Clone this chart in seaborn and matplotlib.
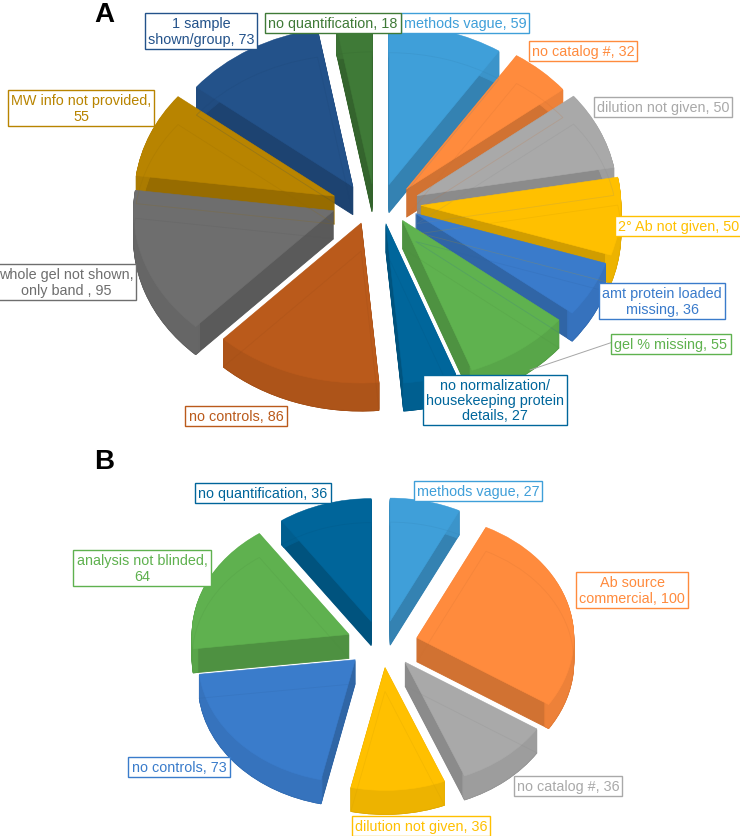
import matplotlib
matplotlib.use('Agg')
import numpy as np
import seaborn as sns
import matplotlib.pyplot as plt
from matplotlib.lines import Line2D

sns.set_theme(style='white')
plt.rcParams['font.family'] = ['Liberation Sans', 'DejaVu Sans']

W, H = 740, 837

# panel A
labels_a = ['methods vague, 59', 'no catalog #, 32', 'dilution not given, 50', '2° Ab not given, 50',
            'amt protein loaded\nmissing, 36', 'gel % missing, 55',
            'no normalization/\nhousekeeping protein\ndetails, 27', 'no controls, 86',
            'whole gel not shown,\nonly band , 95', 'MW info not provided,\n55',
            '1 sample\nshown/group, 73', 'no quantification, 18']
values_a = [59, 32, 50, 50, 36, 55, 27, 86, 95, 55, 73, 18]
colors_a = ['#3f9fd9', '#ff8b3d', '#a9a9a9', '#ffc000', '#3a7bcb', '#5fb24f',
            '#00669b', '#ba5a1b', '#6e6e6e', '#b88400', '#23528a', '#3f7a37']
label_xy_a = [(465, 24), (583, 52), (663, 108), (679, 227), (662, 302), (671, 345),
              (495, 401), (236, 417), (66, 283), (81, 109), (201, 32), (333, 24)]

# panel B
labels_b = ['methods vague, 27', 'Ab source\ncommercial, 100', 'no catalog #, 36', 'dilution not given, 36',
            'no controls, 73', 'analysis not blinded,\n64', 'no quantification, 36']
values_b = [27, 100, 36, 36, 73, 64, 36]
colors_b = ['#3f9fd9', '#ff8b3d', '#a9a9a9', '#ffc000', '#3a7ccb', '#5fb14f', '#00659a']
label_xy_b = [(478, 492), (632, 591), (568, 787), (421, 827), (179, 768), (142, 569), (263, 494)]


def shade(pal, k):
    return [tuple(c * k for c in col) for col in pal]


def draw_pie(fig, values, colors, cx, cy, rx, ry, depth, explode, squash):
    # one axes per pie, squashed so the circle turns into a tilted disc
    margin = 1.5
    ax = fig.add_axes([(cx - margin * rx) / W, 1 - (cy + margin * ry) / H,
                       2 * margin * rx / W, 2 * margin * ry / H])
    pal = sns.color_palette(colors)

    def layer(cols, dy, lw=0.6, **wp):
        wedges, _ = ax.pie(values, colors=cols, center=(0, dy), explode=[explode] * len(values),
                           startangle=90, counterclock=False, wedgeprops=dict(linewidth=lw, **wp))
        for w, c in zip(wedges, cols):
            w.set_edgecolor(c)
            # pull the slices in vertically, the tilt shortens the explosion
            x, y = w.center
            w.set_center((x, dy + (y - dy) * squash))
        return wedges

    steps = np.arange(depth, 0, -1.0)
    for px in steps:
        layer(shade(pal, 0.82), -px / ry)
    # lighter outer rim, radial faces stay dark
    for px in steps:
        layer(shade(pal, 0.93), -px / ry, width=0.03)
    layer(pal, 0, lw=0.4)
    # faint seam of the underside showing through the top
    for w in layer(shade(pal, 0.8), -depth / ry, lw=0.6, fill=False):
        w.set_alpha(0.2)
    ax.set_aspect('auto')
    ax.set_xlim(-margin, margin)
    ax.set_ylim(-margin, margin)
    ax.patch.set_visible(False)
    return ax


def add_labels(fig, labels, colors, xy):
    for lab, col, (x, y) in zip(labels, colors, xy):
        fig.text(x / W, 1 - y / H, lab, color=col, fontsize=10.4, ha='center', va='center',
                 linespacing=1.1, zorder=5,
                 bbox=dict(boxstyle='square,pad=0.22', fc='white', ec=col, lw=1))


fig = plt.figure(figsize=(W / 100, H / 100), dpi=100, facecolor='white')

draw_pie(fig, values_a, colors_a, 376, 205, 200, 160, 28, 0.225, 0.56)
draw_pie(fig, values_b, colors_b, 382, 645, 157, 123, 24, 0.23, 0.83)

fig.add_artist(Line2D([530 / W, 613 / W], [1 - 371 / H, 1 - 343 / H], color='#a6a6a6', lw=0.7, zorder=4))
add_labels(fig, labels_a, colors_a, label_xy_a)
add_labels(fig, labels_b, colors_b, label_xy_b)

fig.text(104 / W, 1 - 15 / H, 'A', fontsize=20, fontweight='bold', color='black', ha='center', va='center')
fig.text(104 / W, 1 - 462 / H, 'B', fontsize=20, fontweight='bold', color='black', ha='center', va='center')

fig.savefig('out.png', dpi=100)
